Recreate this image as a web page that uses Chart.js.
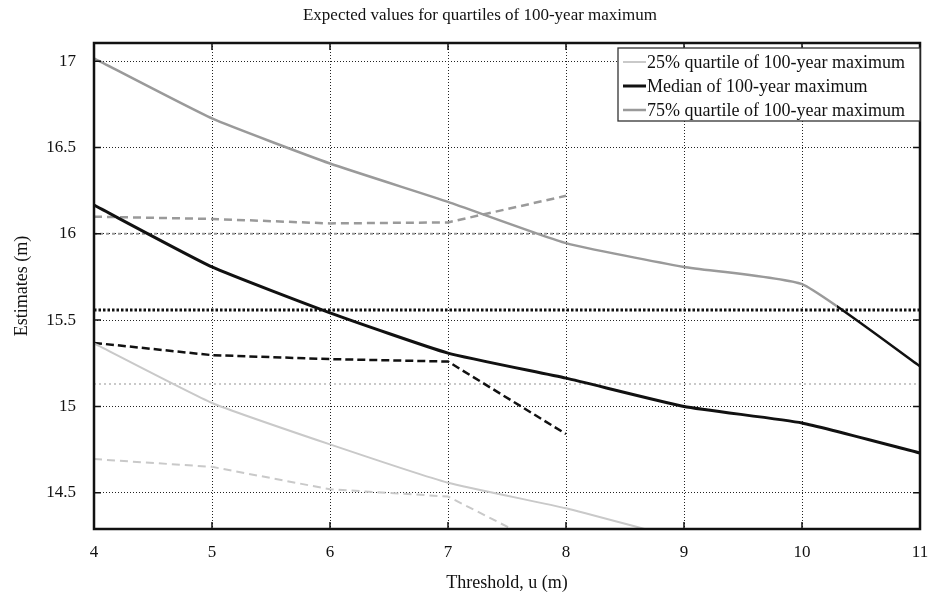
<!DOCTYPE html>
<html>
<head>
<meta charset="utf-8">
<script src="https://cdn.jsdelivr.net/npm/chart.js@4.4.1/dist/chart.umd.min.js"></script>
<style>
  html, body { margin: 0; padding: 0; background: #fff; }
  #wrap { width: 932px; height: 597px; }
</style>
</head>
<body>
<div id="wrap"><canvas id="chart" width="932" height="597"></canvas></div>
<script>
// thresholds u (m)
const thresholds = [4, 5, 6, 7, 8, 9, 10, 11];
const q25 = [15.365, 15.02, 14.78, 14.558, 14.41, 14.23, 14.08, 13.95];
const median = [16.166, 15.808, 15.542, 15.309, 15.164, 15.0, 14.904, 14.73];
const q75 = [17.016, 16.668, 16.407, 16.185, 15.946, 15.808, 15.708, 15.232];

// dashed estimates only go up to u = 8
const dashThresholds = [4, 5, 6, 7, 8];
const q25Dash = [14.695, 14.65, 14.52, 14.478, 14.13];
const medianDash = [15.368, 15.297, 15.274, 15.26, 14.84];
const q75Dash = [16.099, 16.086, 16.06, 16.066, 16.22];

// horizontal reference levels
const refQ25 = 15.13;
const refMedian = 15.558;
const refQ75 = 16.0;

const yTicks = [14.5, 15, 15.5, 16, 16.5, 17];
const legendLabels = [
  '25% quartile of 100-year maximum',
  'Median of 100-year maximum',
  '75% quartile of 100-year maximum'
];

const FONT = '"Liberation Serif", "DejaVu Serif", serif';
const LIGHT = '#c9c9c9', DARK = '#111', MID = '#9a9a9a';

const pts = (xs, ys) => xs.map((x, i) => ({ x, y: ys[i] }));
const flat = v => [{ x: thresholds[0], y: v }, { x: thresholds[thresholds.length - 1], y: v }];

// 75% line turns dark after crossing the median reference level
function q75Segment(ctx) {
  if (ctx.p0.parsed.x !== 10) return undefined;
  const frac = (10.3 - 10) / (11 - 10);
  const g = ctx.chart.ctx.createLinearGradient(ctx.p0.x, 0, ctx.p1.x, 0);
  g.addColorStop(0, MID);
  g.addColorStop(frac, MID);
  g.addColorStop(frac, DARK);
  g.addColorStop(1, DARK);
  return g;
}

const datasets = [
  { label: legendLabels[0], data: pts(thresholds, q25), borderColor: LIGHT, borderWidth: 2, tension: 0.15, inLegend: true },
  { label: legendLabels[1], data: pts(thresholds, median), borderColor: DARK, borderWidth: 3, tension: 0.15, inLegend: true },
  { label: legendLabels[2], data: pts(thresholds, q75), borderColor: MID, borderWidth: 2.5, tension: 0.15, inLegend: true,
    segment: { borderColor: q75Segment } },
  { label: 'q25 dashed', data: pts(dashThresholds, q25Dash), borderColor: LIGHT, borderWidth: 2, borderDash: [8, 5] },
  { label: 'median dashed', data: pts(dashThresholds, medianDash), borderColor: DARK, borderWidth: 2.5, borderDash: [8, 4] },
  { label: 'q75 dashed', data: pts(dashThresholds, q75Dash), borderColor: MID, borderWidth: 2.5, borderDash: [8, 5] },
  { label: 'q25 ref', data: flat(refQ25), borderColor: LIGHT, borderWidth: 2, borderDash: [2, 3] },
  { label: 'median ref', data: flat(refMedian), borderColor: DARK, borderWidth: 3, borderDash: [2.5, 2] },
  { label: 'q75 ref', data: flat(refQ75), borderColor: MID, borderWidth: 2, borderDash: [3, 3] }
];

const framePlugin = {
  id: 'frame',
  afterDraw(chart) {
    const { ctx, chartArea: a, scales } = chart;
    ctx.save();
    ctx.strokeStyle = DARK;
    // inward tick marks
    ctx.lineWidth = 1.5;
    ctx.beginPath();
    scales.y.ticks.forEach(t => {
      const y = scales.y.getPixelForValue(t.value);
      ctx.moveTo(a.left, y); ctx.lineTo(a.left + 7, y);
      ctx.moveTo(a.right, y); ctx.lineTo(a.right - 7, y);
    });
    scales.x.ticks.forEach(t => {
      const x = scales.x.getPixelForValue(t.value);
      ctx.moveTo(x, a.top); ctx.lineTo(x, a.top + 7);
      ctx.moveTo(x, a.bottom); ctx.lineTo(x, a.bottom - 7);
    });
    ctx.stroke();
    ctx.lineWidth = 2.5;
    ctx.strokeRect(a.left, a.top, a.right - a.left, a.bottom - a.top);

    // title
    ctx.fillStyle = DARK;
    ctx.font = '17px ' + FONT;
    ctx.textAlign = 'center';
    ctx.textBaseline = 'middle';
    ctx.fillText('Expected values for quartiles of 100-year maximum', 480, 16);

    // legend box in the upper right corner
    const items = chart.data.datasets.filter(d => d.inLegend);
    const bx = a.right - 302, by = a.top + 5, rowH = 24;
    const bh = items.length * rowH + 1;
    ctx.fillStyle = '#fff';
    ctx.fillRect(bx, by, a.right - bx, bh);
    ctx.lineWidth = 1.3;
    ctx.strokeStyle = '#333';
    ctx.strokeRect(bx, by, a.right - bx, bh);
    ctx.font = '18px ' + FONT;
    ctx.textAlign = 'left';
    items.forEach((d, i) => {
      const cy = by + 14 + i * rowH;
      ctx.strokeStyle = d.borderColor;
      ctx.lineWidth = d.borderWidth;
      ctx.beginPath();
      ctx.moveTo(bx + 5, cy); ctx.lineTo(bx + 28, cy);
      ctx.stroke();
      ctx.fillStyle = DARK;
      ctx.fillText(d.label, bx + 29, cy + 1);
    });
    ctx.restore();
  }
};

new Chart(document.getElementById('chart'), {
  type: 'line',
  data: { datasets },
  options: {
    responsive: false,
    animation: false,
    devicePixelRatio: 1,
    layout: { padding: { top: 43, right: 12, bottom: 0, left: 0 } },
    elements: { point: { radius: 0 }, line: { tension: 0 } },
    plugins: { legend: { display: false }, tooltip: { enabled: false } },
    scales: {
      x: {
        type: 'linear', min: 4, max: 11,
        afterBuildTicks: s => { s.ticks = thresholds.map(v => ({ value: v })); },
        afterFit: s => { s.height = 68; s.paddingLeft = 0; s.paddingRight = 0; },
        ticks: { font: { family: FONT, size: 17 }, color: DARK, padding: 13, maxRotation: 0, autoSkip: false, callback: v => String(v) },
        grid: { color: '#222', lineWidth: 1, drawTicks: false },
        border: { display: false, dash: [1, 2] },
        title: { display: true, text: 'Threshold, u (m)', font: { family: FONT, size: 18 }, color: DARK, padding: { top: 0, bottom: 3 } }
      },
      y: {
        min: 14.29, max: 17.105,
        afterBuildTicks: s => { s.ticks = yTicks.map(v => ({ value: v })); },
        afterFit: s => { s.width = 94; s.paddingTop = 0; s.paddingBottom = 0; },
        ticks: { font: { family: FONT, size: 17 }, color: DARK, padding: 18, callback: v => String(v) },
        grid: { color: '#222', lineWidth: 1, drawTicks: false },
        border: { display: false, dash: [1, 2] },
        title: { display: true, text: 'Estimates (m)', font: { family: FONT, size: 18 }, color: DARK, padding: { top: 11, bottom: 0 } }
      }
    }
  },
  plugins: [framePlugin]
});
</script>
</body>
</html>
